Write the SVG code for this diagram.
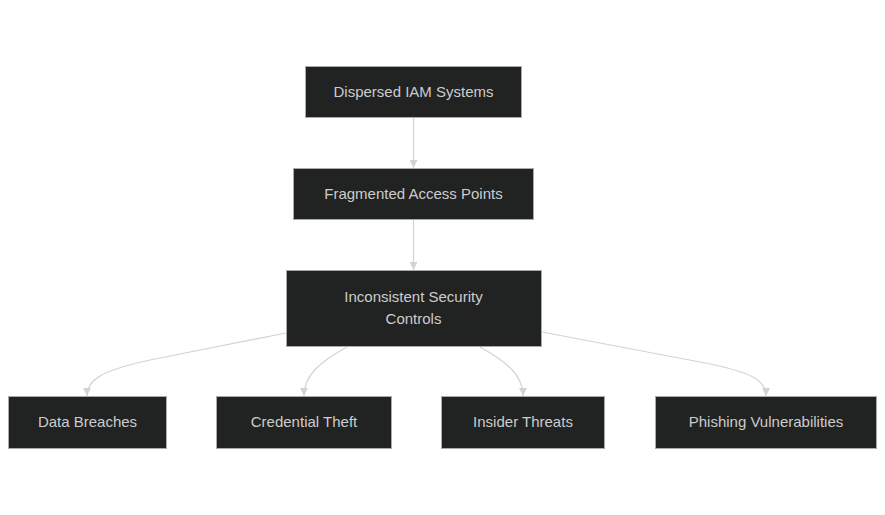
<svg xmlns="http://www.w3.org/2000/svg" width="885" height="515" viewBox="0 0 885 515">
<style>
.node rect{fill:#212222;stroke:#aaaaaa;stroke-width:1}
.node text{fill:#cccccc;font-family:"Liberation Sans","DejaVu Sans",sans-serif;font-size:15px;text-anchor:middle;dominant-baseline:central}
.edges path{fill:none;stroke:#d3d3d3;stroke-width:1.2}
</style>
<defs>
<marker id="arr" viewBox="0 0 10 10" refX="10" refY="5" markerWidth="8" markerHeight="8" markerUnits="userSpaceOnUse" orient="auto">
<path d="M0,0 L10,5 L0,10 z" fill="#d3d3d3"/>
</marker>
</defs>
<rect width="885" height="515" fill="#ffffff"/>
<g class="edges">
<path d="M413.5,118 L413.5,168" marker-end="url(#arr)"/>
<path d="M413.5,220 L413.5,270" marker-end="url(#arr)"/>
<path d="M286,333 L150,360 C100,371 87,380 87,396" marker-end="url(#arr)"/>
<path d="M347,347 C318,363 304,376 304,396" marker-end="url(#arr)"/>
<path d="M480,347 C509,363 523,376 523,396" marker-end="url(#arr)"/>
<path d="M542,332 L700,362 C752,372 766,380 766,396" marker-end="url(#arr)"/>
</g>
<g id="n1" class="node"><rect x="305.5" y="66.5" width="216" height="51"/><text x="413.5" y="91">Dispersed IAM Systems</text></g>
<g id="n2" class="node"><rect x="293.5" y="168.5" width="240" height="51"/><text x="413.5" y="193">Fragmented Access Points</text></g>
<g id="n3" class="node"><rect x="286.5" y="270.5" width="255" height="76"/><text x="413.5" y="296">Inconsistent Security</text><text x="413.5" y="318">Controls</text></g>
<g id="n4" class="node"><rect x="8.5" y="396.5" width="158" height="52"/><text x="87.5" y="421">Data Breaches</text></g>
<g id="n5" class="node"><rect x="216.5" y="396.5" width="175" height="52"/><text x="304" y="421">Credential Theft</text></g>
<g id="n6" class="node"><rect x="441.5" y="396.5" width="163" height="52"/><text x="523" y="421">Insider Threats</text></g>
<g id="n7" class="node"><rect x="655.5" y="396.5" width="221" height="52"/><text x="766" y="421">Phishing Vulnerabilities</text></g>
</svg>
